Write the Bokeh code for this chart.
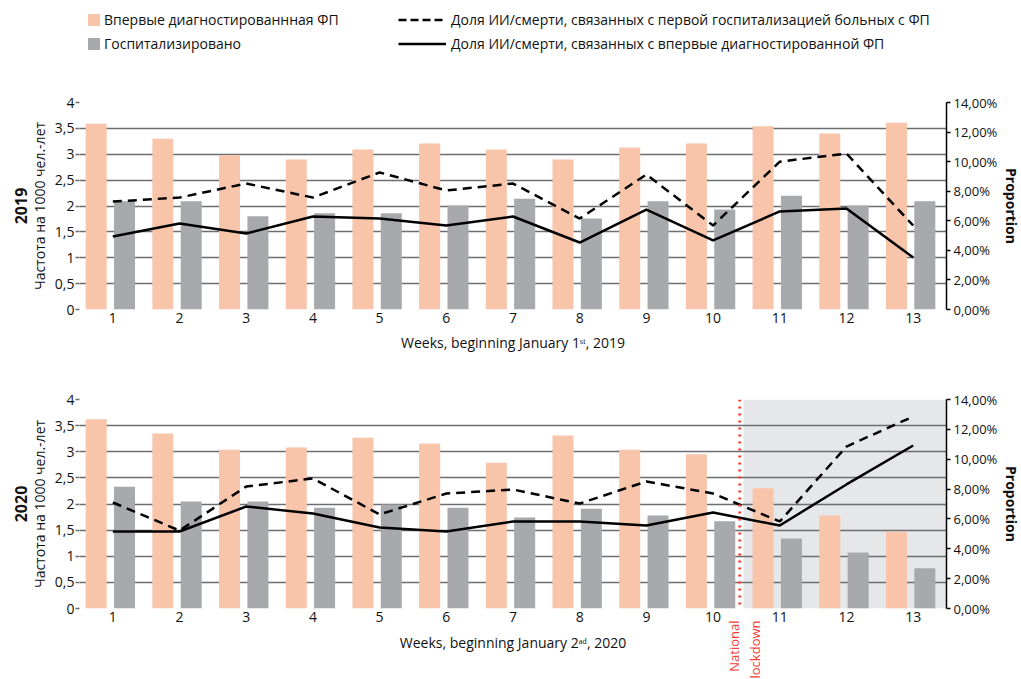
import math
from bokeh.plotting import figure
from bokeh.models import (Range1d, LinearAxis, FixedTicker, Legend, LegendItem,
                          BoxAnnotation, Span, Title, ColumnDataSource)
from bokeh.transform import dodge
from bokeh.layouts import column
from bokeh.embed import file_html
from bokeh.resources import INLINE

weeks = list(range(1, 14))

inc_2019 = [3.59, 3.30, 2.98, 2.90, 3.09, 3.21, 3.09, 2.90, 3.13, 3.21, 3.54, 3.40, 3.61]
hosp_2019 = [2.09, 2.09, 1.80, 1.86, 1.86, 2.01, 2.14, 1.76, 2.09, 1.93, 2.20, 2.01, 2.09]
dash_2019 = [7.30, 7.57, 8.52, 7.57, 9.27, 8.05, 8.52, 6.15, 9.13, 5.68, 10.00, 10.55, 5.68]
solid_2019 = [4.94, 5.82, 5.14, 6.29, 6.15, 5.68, 6.29, 4.53, 6.76, 4.67, 6.63, 6.83, 3.52]

inc_2020 = [3.62, 3.35, 3.04, 3.08, 3.27, 3.16, 2.79, 3.31, 3.04, 2.95, 2.30, 1.78, 1.47]
hosp_2020 = [2.33, 2.05, 2.05, 1.93, 1.99, 1.93, 1.74, 1.91, 1.78, 1.67, 1.34, 1.07, 0.77]
dash_2020 = [7.10, 5.22, 8.17, 8.71, 6.30, 7.70, 7.97, 7.03, 8.51, 7.70, 5.83, 10.85, 12.86]
solid_2020 = [5.16, 5.16, 6.83, 6.36, 5.43, 5.16, 5.83, 5.83, 5.56, 6.43, 5.56, 8.31, 10.92]

left_ticks = [0, 0.5, 1, 1.5, 2, 2.5, 3, 3.5, 4]
left_labels = ["0", "0,5", "1", "1,5", "2", "2,5", "3", "3,5", "4"]
right_ticks = [0, 2, 4, 6, 8, 10, 12, 14]
right_labels = ["0,00%", "2,00%", "4,00%", "6,00%", "8,00%", "10,00%", "12,00%", "14,00%"]

legend_labels = ["Впервые диагностированнная ФП", "Госпитализировано",
                 "Доля ИИ/смерти, связанных с первой госпитализацией больных с ФП",
                 "Доля ИИ/смерти, связанных с впервые диагностированной ФП"]
y_title = "Частота на 1000 чел.-лет"
x_title_2019 = "Weeks, beginning January 1ˢᵗ, 2019"
x_title_2020 = "Weeks, beginning January 2ᵃᵈ, 2020"
lockdown_text = "National\nlockdown"
lockdown_pos = 10.4

FONT = "Open Sans"
TXT = "#111111"
PINK = "#f8c4aa"
GRAY = "#a7a9ac"
SHADE = "#e6e7e8"
GRID = "#6d6e71"
RED = "#ef4136"
DASH = "9 6"


def make_fig(year, src, xtitle, btop, bbottom, fh, xlab_standoff):
    p = figure(x_range=Range1d(0.5, 13.5), y_range=Range1d(0, 4), frame_width=867,
               frame_height=fh, min_border_left=79, min_border_right=74,
               min_border_top=btop, min_border_bottom=bbottom, output_backend="svg",
               toolbar_location=None, outline_line_color=None,
               background_fill_color="white")
    p.extra_y_ranges = {"right": Range1d(0, 14)}
    p.vbar(x=dodge("week", -0.25), top="inc", width=0.315,
           source=src, fill_color=PINK, line_color=None)
    p.vbar(x=dodge("week", 0.175), top="hosp", width=0.315,
           source=src, fill_color=GRAY, line_color=None)
    p.line("week", "dash", source=src, y_range_name="right", line_color="black",
           line_width=2.5, line_dash=DASH)
    p.line("week", "solid", source=src, y_range_name="right", line_color="black",
           line_width=2.5)

    p.xgrid.visible = False
    p.ygrid.ticker = FixedTicker(ticks=left_ticks)
    p.ygrid.grid_line_color = GRID
    p.ygrid.grid_line_width = 1.5

    xa = p.xaxis[0]
    xa.ticker = FixedTicker(ticks=weeks)
    xa.axis_line_color = None
    xa.major_tick_line_color = None
    xa.minor_tick_line_color = None
    xa.major_tick_in = 0
    xa.major_tick_out = 0
    xa.major_label_standoff = 3
    xa.major_label_text_font = FONT
    xa.major_label_text_font_size = "14px"
    xa.major_label_text_color = TXT
    xa.axis_label = xtitle
    xa.axis_label_text_font = FONT
    xa.axis_label_text_font_size = "14px"
    xa.axis_label_text_font_style = "normal"
    xa.axis_label_text_color = TXT
    xa.axis_label_standoff = xlab_standoff

    ya = p.yaxis[0]
    ya.ticker = FixedTicker(ticks=left_ticks)
    ya.major_label_overrides = dict(zip(left_ticks, left_labels))
    ya.axis_line_color = None
    ya.major_tick_in = 0
    ya.major_tick_out = 4
    ya.major_tick_line_color = GRID
    ya.major_tick_line_width = 1.5
    ya.minor_tick_line_color = None
    ya.major_label_standoff = 1
    ya.major_label_text_font = FONT
    ya.major_label_text_font_size = "14px"
    ya.major_label_text_color = TXT
    ya.axis_label = y_title
    ya.axis_label_text_font = FONT
    ya.axis_label_text_font_size = "14px"
    ya.axis_label_text_font_style = "normal"
    ya.axis_label_text_color = TXT
    ya.axis_label_standoff = 3

    ra = LinearAxis(y_range_name="right", ticker=FixedTicker(ticks=right_ticks),
                    major_label_overrides=dict(zip(right_ticks, right_labels)))
    ra.axis_line_color = "black"
    ra.axis_line_width = 1.5
    ra.major_tick_in = 0
    ra.major_tick_out = 4
    ra.major_tick_line_color = "black"
    ra.major_tick_line_width = 1.5
    ra.minor_tick_line_color = None
    ra.major_label_standoff = 3
    ra.major_label_text_font = FONT
    ra.major_label_text_font_size = "13px"
    ra.major_label_text_color = TXT
    ra.axis_label = "Proportion"
    ra.axis_label_text_font = FONT
    ra.axis_label_text_font_size = "14px"
    ra.axis_label_text_font_style = "bold"
    ra.axis_label_text_color = TXT
    ra.axis_label_standoff = 2
    p.add_layout(ra, "right")

    t = Title(text=year, text_font=FONT, text_font_size="16px", text_font_style="bold",
              text_color=TXT, align="center", standoff=0, offset=0)
    p.add_layout(t, "left")
    return p


src19 = ColumnDataSource(dict(week=weeks, inc=inc_2019, hosp=hosp_2019,
                              dash=dash_2019, solid=solid_2019))
src20 = ColumnDataSource(dict(week=weeks, inc=inc_2020, hosp=hosp_2020,
                              dash=dash_2020, solid=solid_2020))

# legend strip: a small figure whose view range hides its glyphs, only the legend shows
p0 = figure(width=1020, height=60, x_range=Range1d(0.5, 13.5), y_range=Range1d(-200, -199),
            min_border=0, x_axis_location=None, y_axis_location=None,
            output_backend="svg", toolbar_location=None, outline_line_color=None)
p0.grid.visible = False
g1 = p0.vbar(x="week", top="inc", width=0.0001, source=src19, fill_color=PINK, line_color=None)
g2 = p0.vbar(x="week", top="hosp", width=0.0001, source=src19, fill_color=GRAY, line_color=None)
g3 = p0.line("week", "dash", source=src19, line_color="black", line_width=2.5, line_dash="8 4")
g4 = p0.line("week", "solid", source=src19, line_color="black", line_width=2.5)
common = dict(border_line_color=None, background_fill_alpha=0, padding=0, margin=0,
              spacing=5, glyph_height=15, label_text_font=FONT, label_text_font_size="14px",
              label_text_color=TXT)
leg1 = Legend(items=[LegendItem(label=legend_labels[0], renderers=[g1]),
                     LegendItem(label=legend_labels[1], renderers=[g2])],
              location=(7, 7), glyph_width=15, label_standoff=3, **common)
leg2 = Legend(items=[LegendItem(label=legend_labels[2], renderers=[g3]),
                     LegendItem(label=legend_labels[3], renderers=[g4])],
              location=(319, 7), glyph_width=48, label_standoff=5, **common)
p0.add_layout(leg1, "center")
p0.add_layout(leg2, "center")

p1 = make_fig("2019", src19, x_title_2019, 42, 51, 207, 7)

p2 = make_fig("2020", src20, x_title_2020, 39, 71, 209, 8)
box = BoxAnnotation(left=lockdown_pos + 0.055, fill_color=SHADE, fill_alpha=1,
                    line_color=None, level="image")
p2.add_layout(box)
span = Span(location=lockdown_pos, dimension="height", line_color=RED, line_width=3,
            line_dash="2 5")
p2.add_layout(span)

# lockdown caption: an extra bottom axis carrying a single rotated tick label
lk = lockdown_pos + 0.07
la = LinearAxis(ticker=FixedTicker(ticks=[lk]), major_label_overrides={lk: lockdown_text},
                major_label_orientation=math.pi / 2)
la.axis_line_color = None
la.major_tick_line_color = None
la.minor_tick_line_color = None
la.major_tick_in = 0
la.major_tick_out = 0
la.major_label_standoff = -34
la.major_label_text_font = FONT
la.major_label_text_font_size = "13px"
la.major_label_text_color = RED
p2.add_layout(la, "below")

layout = column(p0, p1, p2, spacing=0)
open("out.html", "w").write(file_html(layout, INLINE))
